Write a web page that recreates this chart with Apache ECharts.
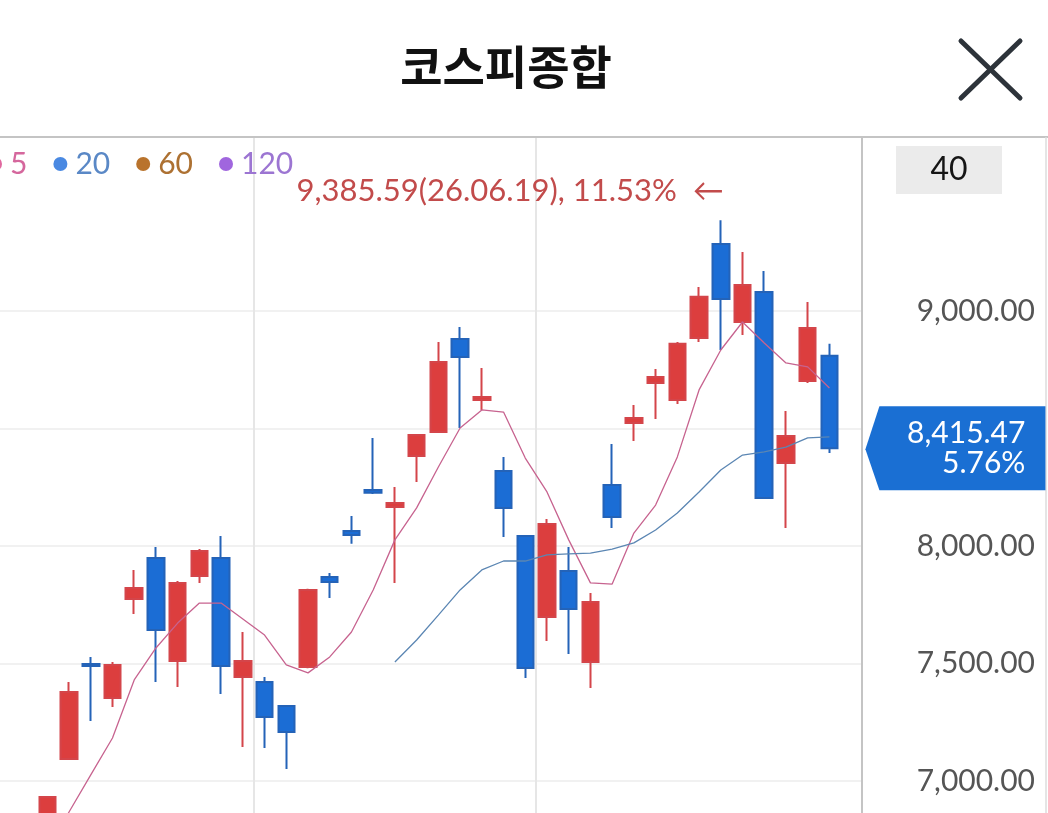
<!DOCTYPE html>
<html>
<head>
<meta charset="utf-8">
<script src="https://cdn.jsdelivr.net/npm/echarts@6/dist/echarts.min.js"></script>
<style>
html,body{margin:0;padding:0;background:#fff;}
#chart{width:1048px;height:813px;}
</style>
</head>
<body>
<div id="chart"></div>
<script>
const dates = ['26.05.07','26.05.08','26.05.11','26.05.12','26.05.13','26.05.14','26.05.15','26.05.18','26.05.19','26.05.20',
  '26.05.21','26.05.22','26.05.25','26.05.26','26.05.27','26.05.28','26.05.29','26.06.01','26.06.02','26.06.03',
  '26.06.04','26.06.05','26.06.08','26.06.09','26.06.10','26.06.11','26.06.12','26.06.15','26.06.16','26.06.17',
  '26.06.18','26.06.19','26.06.22','26.06.23','26.06.24','26.06.25','26.06.26'];
const opens  = [6800,7094,7498,7353,7774,7949,7511,7872,7949,7443,7421,7319,7485,7868,8064,8238,8166,8383,8485,8881,8621,8319,8043,7698,7894,7506,8260,8523,8694,8621,8885,9285,8953,9081,8353,8702,8809];
const closes = [6932,7379,7489,7494,7821,7643,7843,7979,7489,7511,7272,7209,7813,7847,8047,8226,8183,8472,8783,8804,8634,8162,7481,8094,7732,7762,8123,8545,8719,8860,9060,9051,9111,8204,8468,8928,8415.47];
const lows   = [6770,7092,7255,7315,7711,7421,7400,7843,7370,7145,7140,7051,7480,7779,8009,8221,7843,8272,8482,8502,8579,8038,7438,7596,7540,7396,8077,8447,8540,8604,8868,8834,8898,8200,8077,8694,8396];
const highs  = [6936,7421,7528,7506,7898,7996,7851,7987,8043,7634,7443,7322,7818,7885,8128,8460,8251,8475,8868,8932,8757,8379,8047,8115,7996,7800,8434,8600,8753,8868,9102,9385.59,9251,9170,8574,9038,8860];
const ma5  = [6710,6868,7026,7183,7430,7566,7672,7757,7757,7689,7621,7494,7460,7528,7634,7813,8026,8162,8336,8502,8579,8570,8374,8230,8026,7843,7838,8055,8174,8379,8664,8834,8953,8864,8779,8762,8672];
const ma20 = [null,null,null,null,null,null,null,null,null,null,null,null,null,null,null,null,
  7506,7600,7706,7813,7898,7936,7936,7962,7966,7970,7987,8013,8068,8140,8230,8323,8387,8400,8421,8460,8464];
const ma60 = [];
const ma120 = [];
const maNames = ['5','20','60','120'];
const yTicks = [7000,7500,8000,9000];
const changePct = '5.76%';

const padL = 2, padR = 1;
const cats = [];
for (let i = 0; i < padL; i++) cats.push('p' + i);
dates.forEach(d => cats.push(d));
for (let i = 0; i < padR; i++) cats.push('q' + i);
const padArr = (arr) => {
  const out = [];
  for (let i = 0; i < padL; i++) out.push(null);
  arr.forEach(v => out.push(v == null ? null : v));
  for (let i = 0; i < padR; i++) out.push(null);
  return out;
};
const candleData = [];
for (let i = 0; i < padL; i++) candleData.push('-');
dates.forEach((d, i) => candleData.push([opens[i], closes[i], lows[i], highs[i]]));
for (let i = 0; i < padR; i++) candleData.push('-');

const fmt = v => v.toFixed(2).replace(/\B(?=(\d{3})+(?!\d))/g, ',');
let maxIdx = 0;
highs.forEach((h, i) => { if (h > highs[maxIdx]) maxIdx = i; });
const lastClose = closes[closes.length - 1];
const maxPct = ((highs[maxIdx] - lastClose) / lastClose * 100).toFixed(2);

const splitIdx = [padL + 10, padL + 23];
const LATO = 'Lato, "Noto Sans", sans-serif';

const chart = echarts.init(document.getElementById('chart'));
chart.setOption({
  animation: false,
  backgroundColor: '#fff',
  legend: {
    left: -12, top: 149, padding: 0,
    icon: 'circle', itemWidth: 14, itemHeight: 14, itemGap: 26,
    selectedMode: false,
    textStyle: { fontSize: 30, fontFamily: LATO, padding: [0,0,0,3] },
    data: [
      { name: maNames[0], itemStyle: { color: '#e0689f' }, textStyle: { color: '#d5679d' } },
      { name: maNames[1], itemStyle: { color: '#4a89e2' }, textStyle: { color: '#5a88c6' } },
      { name: maNames[2], itemStyle: { color: '#b9732c' }, textStyle: { color: '#ad7132' } },
      { name: maNames[3], itemStyle: { color: '#a066de' }, textStyle: { color: '#9c75d2' } }
    ]
  },
  grid: { left: -7, width: 869, top: 138, height: 760.5, containLabel: false,
    outerBoundsMode: 'none', outerBounds: { left: -2000, right: -2000, top: -2000, bottom: -2000 } },
  xAxis: {
    type: 'category', data: cats, boundaryGap: true,
    axisLine: { show: false }, axisTick: { show: false }, axisLabel: { show: false },
    splitLine: { show: true, interval: (idx) => splitIdx.indexOf(idx) >= 0, lineStyle: { color: '#e6e6e6', width: 2 } }
  },
  yAxis: {
    type: 'value', position: 'right', min: 6500, max: 9736, interval: 500,
    axisLine: { show: true, lineStyle: { color: '#c4c4c4', width: 2 } },
    axisTick: { show: false },
    axisLabel: {
      fontSize: 30, color: '#555', fontFamily: LATO, align: 'right', margin: 173,
      formatter: v => yTicks.indexOf(v) >= 0 ? fmt(v) : ''
    },
    splitLine: { show: true, lineStyle: { color: ['#ececec','#ececec','#ececec','#ececec','#ececec','#ececec','rgba(0,0,0,0)','rgba(0,0,0,0)'], width: 1.5 } }
  },
  series: [
    { name: maNames[0], type: 'line', data: padArr(ma5), symbol: 'none', connectNulls: false,
      lineStyle: { color: '#c7638f', width: 1.3 }, itemStyle: { color: '#e0689f' } },
    { name: maNames[1], type: 'line', data: padArr(ma20), symbol: 'none',
      lineStyle: { color: '#5b86b3', width: 1.3 }, itemStyle: { color: '#4a89e2' } },
    { name: maNames[2], type: 'line', data: padArr(ma60), symbol: 'none',
      lineStyle: { color: '#b9732c', width: 1.3 }, itemStyle: { color: '#b9732c' } },
    { name: maNames[3], type: 'line', data: padArr(ma120), symbol: 'none',
      lineStyle: { color: '#a066de', width: 1.3 }, itemStyle: { color: '#a066de' } },
    {
      name: 'KOSPI', type: 'candlestick', data: candleData, barWidth: 17,
      itemStyle: { color: '#dc3e3e', color0: '#1b6dd5', borderColor: '#d4454a', borderColor0: '#2463b8', borderWidth: 2 },
      markPoint: {
        silent: true,
        data: [
          {
            coord: [dates[maxIdx], highs[maxIdx]],
            symbol: 'circle', symbolSize: 1, itemStyle: { color: 'rgba(0,0,0,0)' },
            label: {
              show: true, position: 'inside', align: 'right', verticalAlign: 'middle', offset: [3, -29],
              color: '#c24b4b', fontSize: 31, fontFamily: LATO,
              formatter: fmt(highs[maxIdx]) + '(' + dates[maxIdx] + '), ' + maxPct + '%  ←'
            }
          },
          {
            coord: [dates[dates.length - 1], lastClose],
            symbol: 'path://M0,43L14,0L180,0L180,84L14,84Z', symbolSize: [180, 84], symbolKeepAspect: false,
            symbolOffset: [126, 0],
            itemStyle: { color: '#1a6fd3' },
            label: {
              show: true, position: 'inside', align: 'right', verticalAlign: 'middle', offset: [70, 0],
              color: '#fff', fontSize: 30, lineHeight: 30, fontFamily: LATO,
              formatter: fmt(lastClose) + '\n' + changePct
            }
          }
        ]
      }
    }
  ],
  graphic: [
    { type: 'text', x: 506, y: 67, style: { text: '코스피종합', textAlign: 'center', textVerticalAlign: 'middle',
      fontSize: 46, fontWeight: 'bold', fontFamily: '"Noto Sans CJK KR", sans-serif', fill: '#111' } },
    { type: 'line', shape: { x1: 961, y1: 41, x2: 1020, y2: 98 }, style: { stroke: '#2d333a', lineWidth: 5, lineCap: 'round' } },
    { type: 'line', shape: { x1: 1020, y1: 41, x2: 961, y2: 98 }, style: { stroke: '#2d333a', lineWidth: 5, lineCap: 'round' } },
    { type: 'line', shape: { x1: 0, y1: 137, x2: 1048, y2: 137 }, style: { stroke: '#c4c4c4', lineWidth: 2 } },
    { type: 'line', shape: { x1: 1046, y1: 137, x2: 1046, y2: 813 }, style: { stroke: '#dcdcdc', lineWidth: 1.5 } },
    { type: 'rect', shape: { x: 896, y: 146, width: 106, height: 48 }, style: { fill: '#ebebeb' } },
    { type: 'text', x: 949, y: 170, style: { text: '40', textAlign: 'center', textVerticalAlign: 'middle',
      fontSize: 32, fontFamily: LATO, fill: '#151515' } }
  ]
});
</script>
</body>
</html>
